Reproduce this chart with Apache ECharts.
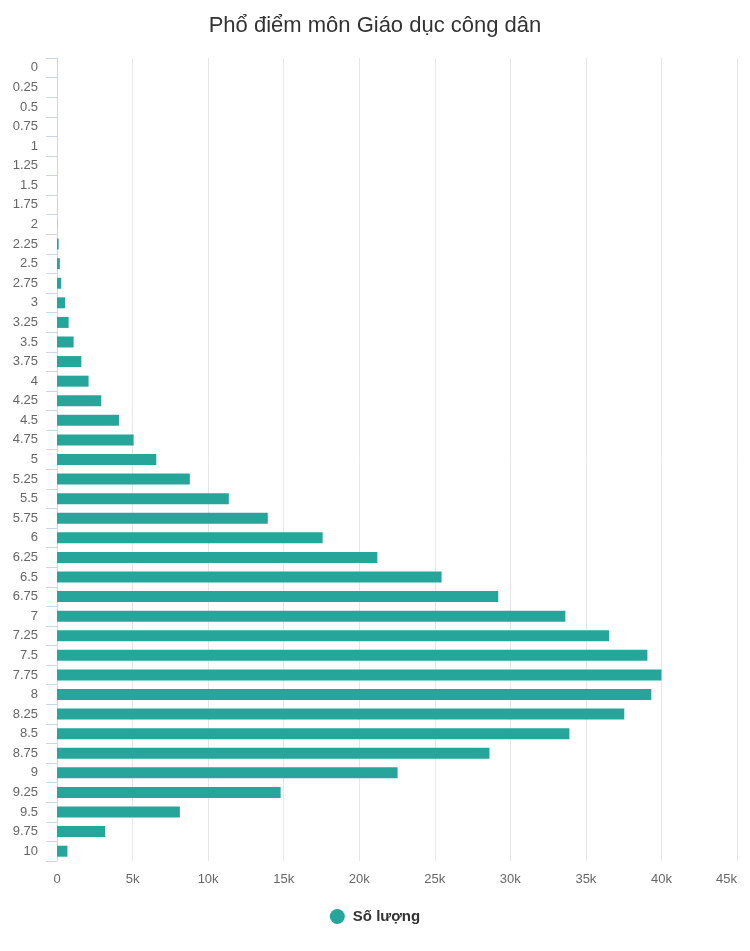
<!DOCTYPE html>
<html>
<head>
<meta charset="utf-8">
<script src="https://cdn.jsdelivr.net/npm/echarts@6/dist/echarts.min.js"></script>
<style>
html,body{margin:0;padding:0;background:#fff;}
#chart{width:750px;height:951px;}
</style>
</head>
<body>
<div id="chart"></div>
<script>
const titleText = 'Phổ điểm môn Giáo dục công dân';
const seriesName = 'Số lượng';
const categories = ['0','0.25','0.5','0.75','1','1.25','1.5','1.75','2','2.25','2.5','2.75','3','3.25','3.5','3.75','4','4.25','4.5','4.75','5','5.25','5.5','5.75','6','6.25','6.5','6.75','7','7.25','7.5','7.75','8','8.25','8.5','8.75','9','9.25','9.5','9.75','10'];
const values = [1,0,0,1,1,2,3,5,12,110,190,280,530,770,1100,1610,2090,2930,4100,5070,6570,8790,11370,13950,17580,21200,25450,29200,33640,36540,39070,40000,39330,37540,33910,28620,22540,14800,8130,3190,690];
const xTicks = {min: 0, max: 45000, interval: 5000};

const chart = echarts.init(document.getElementById('chart'));
chart.setOption({
  animation: false,
  backgroundColor: '#fff',
  title: {
    text: titleText,
    left: 'center',
    top: 10,
    textStyle: {fontFamily: 'Liberation Sans, Arial, sans-serif', fontSize: 22, fontWeight: 'normal', color: '#333'}
  },
  legend: {
    bottom: 22,
    left: 'center',
    icon: 'circle',
    itemWidth: 15,
    itemHeight: 15,
    itemGap: 8,
    textStyle: {fontFamily: 'Liberation Sans, Arial, sans-serif', fontSize: 15, fontWeight: 'bold', color: '#333', padding: [0, 0, 0, 3]},
    data: [seriesName]
  },
  grid: {left: 57, right: 13, top: 58, bottom: 90, containLabel: false},
  xAxis: {
    type: 'value',
    min: xTicks.min,
    max: xTicks.max,
    interval: xTicks.interval,
    axisLine: {show: false},
    axisTick: {show: false},
    splitLine: {show: true, lineStyle: {color: '#e6e6e6', width: 1}},
    axisLabel: {
      margin: 12,
      color: '#666',
      fontSize: 13,
      alignMaxLabel: 'right',
      fontFamily: 'Liberation Sans, Arial, sans-serif',
      formatter: v => v === 0 ? '0' : (v / 1000) + 'k'
    }
  },
  yAxis: {
    type: 'category',
    inverse: true,
    data: categories,
    boundaryGap: true,
    axisLine: {show: true, lineStyle: {color: '#ccd6eb', width: 1}},
    axisTick: {show: true, length: 11, lineStyle: {color: '#ccd6eb'}, alignWithLabel: false},
    axisLabel: {
      margin: 19,
      color: '#666',
      fontSize: 13,
      padding: [4, 0, 0, 0],
      fontFamily: 'Liberation Sans, Arial, sans-serif',
      interval: 0
    },
    splitLine: {show: false}
  },
  series: [{
    name: seriesName,
    type: 'bar',
    data: values,
    barWidth: 11,
    itemStyle: {color: '#26a69a'}
  }]
});
</script>
</body>
</html>
